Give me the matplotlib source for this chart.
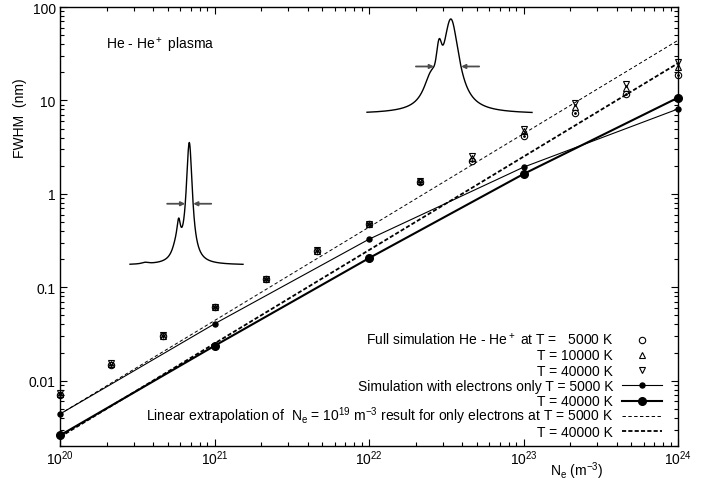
import numpy as np
import matplotlib
matplotlib.use("Agg")
import matplotlib.pyplot as plt
from matplotlib.ticker import LogLocator, FixedLocator, FixedFormatter, NullFormatter

plt.rcParams["font.family"] = ["Liberation Sans", "DejaVu Sans"]
plt.rcParams["mathtext.default"] = "regular"
plt.rcParams["font.size"] = 10

W, H = 712, 481  # figure size in pixels

# ==========
# Data
# ==========
# Full He - He+ simulation
ne_full = [1e20, 2.15e20, 4.64e20, 1e21, 2.15e21, 4.64e21, 1e22,
           2.15e22, 4.64e22, 1e23, 2.15e23, 4.64e23, 1e24]
fwhm_full_5000 = [0.0071, 0.0146, 0.0300, 0.0610, 0.122, 0.243, 0.470,
                  1.33, 2.25, 4.16, 7.30, 11.6, 18.5]
fwhm_full_10000 = [0.0072, 0.0150, 0.0303, 0.0614, 0.123, 0.245, 0.475,
                   1.36, 2.40, 4.67, 8.55, 13.5, 22.6]
fwhm_full_40000 = [0.0073, 0.0153, 0.0306, 0.0618, 0.124, 0.248, 0.480,
                   1.38, 2.55, 4.97, 9.30, 14.9, 25.9]

# Simulation with electrons only
ne_el = [1e20, 1e21, 1e22, 1e23, 1e24]
fwhm_el_5000 = [0.0044, 0.0406, 0.327, 1.93, 8.1]
fwhm_el_40000 = [0.0026, 0.0236, 0.205, 1.63, 10.7]

# Linear extrapolation of the Ne = 1e19 m^-3 electron-only result
ne_ref = 1e19
fwhm_ref_5000 = 4.4e-4
fwhm_ref_40000 = 2.5e-4
ne_extrap = np.array([1e20, 1e24])

x_ticks = [1e20, 1e21, 1e22, 1e23, 1e24]
x_tick_labels = ["$10^{20}$", "$10^{21}$", "$10^{22}$", "$10^{23}$", "$10^{24}$"]
y_ticks = [0.01, 0.1, 1, 10, 100]
y_tick_labels = ["0.01", "0.1", "1", "10", "100"]

# Line profile sketches (offsets and widths in pixel units from the main peak)
# each component: (kind, centre offset, width, amplitude)
profile_narrow = [("lor", 0.0, 3.8, 120.0), ("lor", -10.6, 2.2, 24.0),
                  ("lor", -13.3, 5.0, 12.0), ("lor", -44.3, 4.0, 1.5)]
profile_broad = [("lor", 0.0, 10.0, 90.8), ("lor", -20.0, 9.0, 25.0),
                 ("gau", -12.0, 2.2, 23.8)]


def px_axes(fig, x0, y0, x1, y1):
    """Axes from a pixel box (top-left origin)."""
    return fig.add_axes([x0 / W, 1 - y1 / H, (x1 - x0) / W, (y1 - y0) / H])


def line_profile(x, components):
    y = np.zeros_like(x)
    for kind, c, w, a in components:
        if kind == "lor":
            y += a / (1 + ((x - c) / w) ** 2)
        else:
            y += a * np.exp(-((x - c) ** 2) / (2 * w ** 2))
    return y


def draw_profile(fig, x_left, x_right, x_peak, y_base, components, tail=18):
    ax_in = px_axes(fig, x_left, y_base - 130, x_right, y_base)
    ax_in.set_xlim(x_left - x_peak, x_right - x_peak)
    ax_in.set_ylim(0, 130)
    ax_in.axis("off")

    x = np.linspace(x_left - x_peak, x_right - x_peak, 800)
    y = line_profile(x, components)
    ax_in.plot(x, y, color="black", lw=1.0, clip_on=False)

    # half maximum crossings either side of the main peak
    half = y.max() / 2
    i_pk = int(np.argmax(y))
    i_l = i_pk - np.argmax(y[:i_pk + 1][::-1] < half)
    i_r = i_pk + np.argmax(y[i_pk:] < half)
    for tip, sign in ((x[i_l], -1), (x[i_r], 1)):
        ax_in.annotate(
            "", xy=(tip, half), xytext=(tip + sign * tail, half),
            arrowprops=dict(arrowstyle="-|>", color="0.3", lw=1.3,
                            mutation_scale=6, shrinkA=0, shrinkB=0),
            annotation_clip=False,
        )


fig = plt.figure(figsize=(W / 100, H / 100), dpi=100)
ax = px_axes(fig, 60, 8, 678, 447)

# ==========
# Full simulation markers
# ==========
mk = dict(linestyle="none", mfc="none", mec="black", mew=0.8, ms=4.6, clip_on=False)
ax.plot(ne_full, fwhm_full_5000, marker="o", **mk)
ax.plot(ne_full, fwhm_full_5000, marker="o", linestyle="none", ms=1.0,
        color="black", clip_on=False)
ax.plot(ne_full, fwhm_full_10000, marker="^", **mk)
ax.plot(ne_full, fwhm_full_40000, marker="v", **mk)

# ==========
# Electron-only simulation and extrapolations
# ==========
ax.plot(ne_el, fwhm_el_5000, color="black", lw=0.8, marker="o", ms=3.6,
        clip_on=False)
ax.plot(ne_el, fwhm_el_40000, color="black", lw=1.5, marker="o", ms=5.5,
        clip_on=False)
ax.plot(ne_extrap, fwhm_ref_5000 * ne_extrap / ne_ref, color="black", lw=0.7,
        linestyle=(0, (3.5, 2.5)))
ax.plot(ne_extrap, fwhm_ref_40000 * ne_extrap / ne_ref, color="black", lw=1.3,
        linestyle=(0, (2.3, 1.2)))

# ==========
# Axes, ticks
# ==========
ax.set_xscale("log")
ax.set_yscale("log")
ax.set_xlim(1e20, 1e24)
ax.set_ylim(0.002, 100)

ax.xaxis.set_major_locator(FixedLocator(x_ticks))
ax.xaxis.set_major_formatter(FixedFormatter(x_tick_labels))
ax.yaxis.set_major_locator(FixedLocator(y_ticks))
ax.yaxis.set_major_formatter(FixedFormatter(y_tick_labels))
for axis in (ax.xaxis, ax.yaxis):
    axis.set_minor_locator(LogLocator(base=10, subs=np.arange(2, 10), numticks=20))
    axis.set_minor_formatter(NullFormatter())

ax.tick_params(which="both", direction="in", top=True, right=True, width=0.8)
ax.tick_params(which="major", length=5)
ax.tick_params(which="minor", length=3)
ax.tick_params(axis="x", pad=2)
ax.tick_params(axis="y", pad=3)
for sp in ax.spines.values():
    sp.set_linewidth(1.0)

ax.set_xlabel("N$_e$ (m$^{-3}$)")
ax.xaxis.set_label_coords((577 - 60) / 618, -13 / 439)
ax.set_ylabel("FWHM  (nm)")
ax.yaxis.set_label_coords((27 - 60) / 618, (447 - 118) / 439)

ax.text((106 - 60) / 618, (447 - 50) / 439, "He - He$^+$ plasma",
        transform=ax.transAxes, va="baseline", ha="left")

# ==========
# Key, right aligned text with samples on the right
# ==========
key_rows = [
    ("Full simulation He - He$^+$ at T =   5000 K", dict(marker="o", linestyle="none", mfc="none", mec="black", mew=0.8, ms=4.6)),
    ("T = 10000 K", dict(marker="^", linestyle="none", mfc="none", mec="black", mew=0.8, ms=4.6)),
    ("T = 40000 K", dict(marker="v", linestyle="none", mfc="none", mec="black", mew=0.8, ms=4.6)),
    ("Simulation with electrons only T = 5000 K", dict(color="black", lw=0.8, marker="o", ms=3.6, markevery=[1])),
    ("T = 40000 K", dict(color="black", lw=1.5, marker="o", ms=5.5, markevery=[1])),
    ("Linear extrapolation of  N$_e$ = 10$^{19}$ m$^{-3}$ result for only electrons at T = 5000 K",
     dict(color="black", lw=0.7, linestyle=(0, (3.5, 2.5)))),
    ("T = 40000 K", dict(color="black", lw=1.3, linestyle=(0, (2.3, 1.2)))),
]
text_right, s0, s1 = 613, 622, 662
for i, (label, style) in enumerate(key_rows):
    base = 345 + 15.3 * i
    ax.text((text_right - 60) / 618, (447 - base) / 439, label,
            transform=ax.transAxes, ha="right", va="baseline")
    ys = (447 - (base - 4.5)) / 439
    xs = [(s0 - 60) / 618, (0.5 * (s0 + s1) - 60) / 618, (s1 - 60) / 618]
    if style.get("linestyle") == "none":
        ax.plot([xs[1]], [ys], transform=ax.transAxes, clip_on=False, **style)
    else:
        ax.plot(xs, [ys] * 3, transform=ax.transAxes, clip_on=False, **style)

# ==========
# Profile sketches
# ==========
draw_profile(fig, 130, 243, 189.3, 266, profile_narrow)
draw_profile(fig, 367, 532, 451, 115, profile_broad)

fig.savefig("out.png", dpi=100)
